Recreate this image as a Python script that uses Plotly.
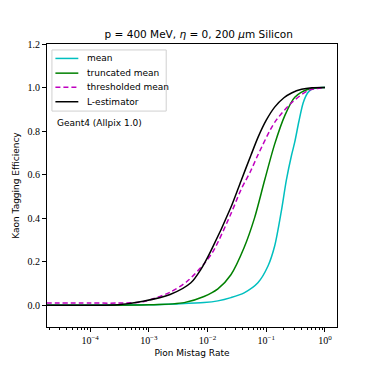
import plotly.graph_objects as go

# pion mistag rate (x) vs kaon tagging efficiency (y)
mean_x = [1.8e-5, 1e-4, 1e-3, 3e-3, 8.7e-3, 1.5e-2, 2.5e-2, 4.2e-2, 7.2e-2, 0.107, 0.139, 0.18, 0.22, 0.27, 0.306, 0.36, 0.426, 0.505, 0.59, 0.75, 1.0]
mean_y = [0.0, 0.0, 0.002, 0.006, 0.012, 0.02, 0.035, 0.057, 0.103, 0.18, 0.272, 0.43, 0.575, 0.69, 0.75, 0.845, 0.93, 0.975, 0.992, 0.999, 1.0]

trunc_x = [1.8e-5, 1e-4, 1e-3, 4e-3, 8.7e-3, 1.5e-2, 2.5e-2, 4.2e-2, 6.3e-2, 9.4e-2, 0.139, 0.206, 0.306, 0.52, 1.0]
trunc_y = [0.0, 0.0, 0.002, 0.012, 0.04, 0.075, 0.14, 0.265, 0.40, 0.575, 0.74, 0.87, 0.955, 0.992, 1.0]

thr_x = [1.8e-5, 1e-4, 3e-4, 8e-4, 2.3e-3, 4.5e-3, 8.7e-3, 1.26e-2, 2.5e-2, 3.7e-2, 5.5e-2, 7.2e-2, 0.139, 0.27, 0.52, 1.0]
thr_y = [0.01, 0.01, 0.01, 0.016, 0.06, 0.11, 0.19, 0.25, 0.42, 0.53, 0.62, 0.69, 0.84, 0.93, 0.986, 1.0]

lest_x = [1.8e-5, 1e-4, 3e-4, 8e-4, 2.3e-3, 5.2e-3, 7.7e-3, 1.14e-2, 2.5e-2, 3.7e-2, 5.5e-2, 7.2e-2, 0.1, 0.139, 0.2, 0.27, 0.4, 0.6, 1.0]
lest_y = [0.0, 0.0, 0.002, 0.018, 0.049, 0.103, 0.165, 0.25, 0.45, 0.57, 0.69, 0.77, 0.85, 0.91, 0.953, 0.975, 0.992, 0.999, 1.0]

series_names = ["mean", "truncated mean", "thresholded mean", "L-estimator"]
series_colors = ["#00bfbf", "#008000", "#bf00bf", "black"]
series_dash = ["solid", "solid", "5px,3px", "solid"]

xtick_vals = [1e-4, 1e-3, 1e-2, 1e-1, 1]
xtick_text = ["10<sup>\u22124</sup>", "10<sup>\u22123</sup>", "10<sup>\u22122</sup>", "10<sup>\u22121</sup>", "10<sup>0</sup>"]
ytick_vals = [0.0, 0.2, 0.4, 0.6, 0.8, 1.0, 1.2]

minor_vals = [m * 10.0 ** e for e in range(-5, 1) for m in range(2, 10)]

fig = go.Figure()
for xs, ys, name, color, dash in zip([mean_x, trunc_x, thr_x, lest_x],
                                     [mean_y, trunc_y, thr_y, lest_y],
                                     series_names, series_colors, series_dash):
    fig.add_trace(go.Scatter(x=xs, y=ys, mode="lines", name=name, showlegend=False,
                             line=dict(color=color, width=1.5, dash=dash,
                                       shape="spline", smoothing=0.8)))

# hand-made legend box (matplotlib style, tight rows)
fig.add_shape(type="rect", xref="paper", yref="paper", x0=0.017, x1=0.411, y0=0.763, y1=0.979,
              line=dict(color="#d0d0d0", width=1), fillcolor="rgba(255,255,255,0.8)", layer="above")
row_y = [0.949, 0.897, 0.847, 0.796]
for name, color, dash, ry in zip(series_names, series_colors, series_dash, row_y):
    fig.add_shape(type="line", xref="paper", yref="paper", x0=0.029, x1=0.108, y0=ry, y1=ry,
                  line=dict(color=color, width=1.5, dash=dash), layer="above")
    fig.add_annotation(text=name, xref="paper", yref="paper", x=0.13, y=ry,
                       xanchor="left", yanchor="middle", showarrow=False,
                       font=dict(size=9, color="black"))

fig.add_annotation(text="Geant4 (Allpix 1.0)", xref="paper", yref="paper",
                   x=0.028, y=0.721, xanchor="left", yanchor="middle", showarrow=False,
                   font=dict(size=9, color="black"))

# page body adds an 8px offset, so margins are shifted to compensate
fig.update_layout(
    width=374, height=374,
    margin=dict(l=39, r=45, t=36, b=55),
    paper_bgcolor="white", plot_bgcolor="white",
    font=dict(family="DejaVu Sans", size=9, color="black"),
    title=dict(text="p = 400 MeV, <i>\u03b7</i> = 0, 200 <i>\u03bc</i>m Silicon",
               x=0.51, xanchor="center", y=0.93, yanchor="middle",
               font=dict(size=10.5)),
    showlegend=False,
)
fig.update_xaxes(type="log", range=[-4.735, 0.205], automargin=False,
                 tickvals=xtick_vals, ticktext=xtick_text,
                 ticks="outside", ticklen=4, tickcolor="black",
                 minor=dict(tickvals=minor_vals, ticks="outside", ticklen=2, tickcolor="black"),
                 showline=True, linecolor="black", linewidth=1, mirror=True,
                 showgrid=False, zeroline=False,
                 tickfont=dict(family="Liberation Serif", size=10),
                 title=dict(text="Pion Mistag Rate", standoff=4, font=dict(size=9)))
fig.update_yaxes(range=[-0.1, 1.2], tickvals=ytick_vals, tickformat=".1f", automargin=False,
                 ticks="outside", ticklen=4, tickcolor="black",
                 showline=True, linecolor="black", linewidth=1, mirror=True,
                 showgrid=False, zeroline=False,
                 tickfont=dict(family="Liberation Serif", size=10),
                 title=dict(text="Kaon Tagging Efficiency", standoff=6, font=dict(size=9)))

fig.write_html("out.html")
